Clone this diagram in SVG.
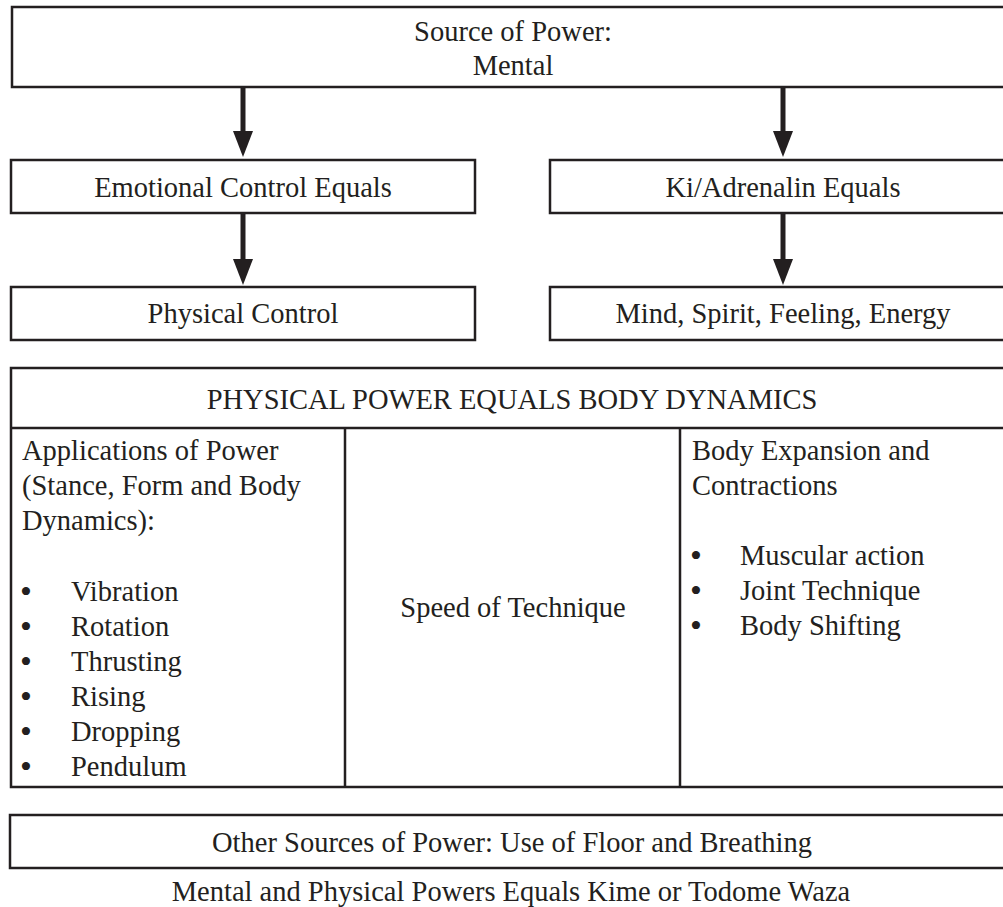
<svg xmlns="http://www.w3.org/2000/svg" width="1003" height="907" viewBox="0 0 1003 907">
<style>
.box{fill:#fff;stroke:#231f20;stroke-width:2.5}
.ln{stroke:#231f20;stroke-width:2.5;fill:none}
.t{font-family:"Liberation Serif","Times New Roman",serif;font-size:28.5px;fill:#231f20}
.b{font-family:"Liberation Serif","Times New Roman",serif;font-size:34px;fill:#231f20}
.c{text-anchor:middle}
.conn{stroke:#231f20;stroke-width:5;fill:none}
</style>
<defs>
<marker id="ah" markerUnits="userSpaceOnUse" markerWidth="27" markerHeight="21" refX="0" refY="10" orient="auto">
<path d="M0,0 L26,10 L0,20 z" fill="#231f20"/>
</marker>
</defs>
<rect width="1003" height="907" fill="#fff"/>
<g id="connectors">
<line class="conn" x1="243" y1="88" x2="243" y2="131" marker-end="url(#ah)"/>
<line class="conn" x1="243" y1="214" x2="243" y2="259" marker-end="url(#ah)"/>
<line class="conn" x1="783" y1="88" x2="783" y2="131" marker-end="url(#ah)"/>
<line class="conn" x1="783" y1="214" x2="783" y2="259" marker-end="url(#ah)"/>
</g>
<g id="source">
<rect class="box" x="12" y="7" width="1003" height="80"/>
<text class="t c" x="513" y="41">Source of Power:</text>
<text class="t c" x="513" y="75">Mental</text>
</g>
<g id="emotional">
<rect class="box" x="11" y="160" width="464" height="53"/>
<text class="t c" x="243" y="197">Emotional Control Equals</text>
</g>
<g id="physical-control">
<rect class="box" x="11" y="287" width="464" height="53"/>
<text class="t c" x="243" y="323">Physical Control</text>
</g>
<g id="ki">
<rect class="box" x="550" y="160" width="466" height="53"/>
<text class="t c" x="783" y="197">Ki/Adrenalin Equals</text>
</g>
<g id="mind">
<rect class="box" x="550" y="287" width="466" height="53"/>
<text class="t c" x="783" y="323">Mind, Spirit, Feeling, Energy</text>
</g>
<g id="physical-power-table">
<rect class="box" x="11" y="368" width="1003" height="419"/>
<line class="ln" x1="11" y1="428" x2="1014" y2="428"/>
<line class="ln" x1="345" y1="428" x2="345" y2="787"/>
<line class="ln" x1="680" y1="428" x2="680" y2="787"/>
<text class="t c" x="512" y="409">PHYSICAL POWER EQUALS BODY DYNAMICS</text>
<g id="applications">
<text class="t" x="22" y="460">Applications of Power</text>
<text class="t" x="22" y="495">(Stance, Form and Body</text>
<text class="t" x="22" y="530">Dynamics):</text>
<text class="b" x="20" y="603">•</text><text class="t" x="71" y="601">Vibration</text>
<text class="b" x="20" y="638">•</text><text class="t" x="71" y="636">Rotation</text>
<text class="b" x="20" y="673">•</text><text class="t" x="71" y="671">Thrusting</text>
<text class="b" x="20" y="708">•</text><text class="t" x="71" y="706">Rising</text>
<text class="b" x="20" y="743">•</text><text class="t" x="71" y="741">Dropping</text>
<text class="b" x="20" y="778">•</text><text class="t" x="71" y="776">Pendulum</text>
</g>
<g id="speed">
<text class="t c" x="513" y="617">Speed of Technique</text>
</g>
<g id="expansion">
<text class="t" x="692" y="460">Body Expansion and</text>
<text class="t" x="692" y="495">Contractions</text>
<text class="b" x="690" y="567">•</text><text class="t" x="740" y="565">Muscular action</text>
<text class="b" x="690" y="602">•</text><text class="t" x="740" y="600">Joint Technique</text>
<text class="b" x="690" y="637">•</text><text class="t" x="740" y="635">Body Shifting</text>
</g>
</g>
<g id="other-sources">
<rect class="box" x="10" y="815" width="1005" height="53"/>
<text class="t c" x="512" y="852">Other Sources of Power: Use of Floor and Breathing</text>
</g>
<g id="conclusion">
<text class="t c" x="511" y="901">Mental and Physical Powers Equals Kime or Todome Waza</text>
</g>
</svg>
